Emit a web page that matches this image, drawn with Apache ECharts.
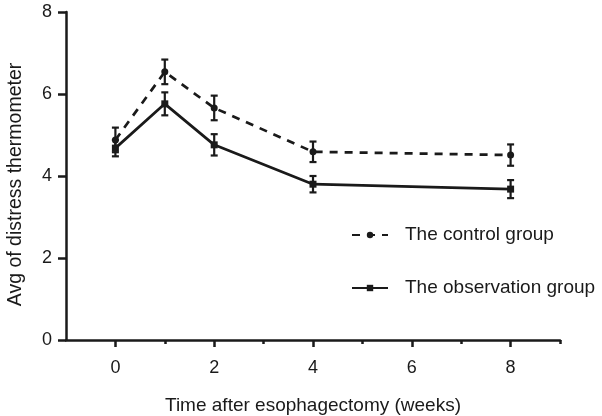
<!DOCTYPE html>
<html>
<head>
<meta charset="utf-8">
<script src="https://cdn.jsdelivr.net/npm/echarts@6/dist/echarts.min.js"></script>
<style>
  html, body { margin: 0; padding: 0; background: #fff; }
  #chart { width: 602px; height: 416px; }
</style>
</head>
<body>
<div id="chart"></div>
<script>
// values
const weeks = [0, 1, 2, 4, 8];
const controlMean = [4.88, 6.54, 5.66, 4.59, 4.51];
const controlErr = [0.3, 0.3, 0.3, 0.25, 0.26];
const obsMean = [4.68, 5.76, 4.76, 3.80, 3.68];
const obsErr = [0.2, 0.28, 0.26, 0.2, 0.22];
const majorTicks = [0, 2, 4, 6, 8];
const minorTicks = [1, 3, 5, 7, 9];
const yTicks = [0, 2, 4, 6, 8];

const ink = '#1a1a1a';
const font = '"Liberation Sans", Arial, sans-serif';

const pairs = (m) => weeks.map((w, i) => [w, m[i]]);
const bars = (m, e) => weeks.map((w, i) => [w, m[i] - e[i], m[i] + e[i]]);

const errorBars = (name, data) => ({
  name: name + ' err',
  type: 'custom',
  xAxisIndex: 0,
  data,
  z: 3,
  renderItem: function (params, api) {
    const x = api.value(0);
    const top = api.coord([x, api.value(2)]);
    const bot = api.coord([x, api.value(1)]);
    const cap = 3.5;
    const style = {stroke: ink, lineWidth: 2.2};
    return {
      type: 'group',
      children: [
        {type: 'line', shape: {x1: top[0], y1: top[1], x2: bot[0], y2: bot[1]}, style},
        {type: 'line', shape: {x1: top[0] - cap, y1: top[1], x2: top[0] + cap, y2: top[1]}, style},
        {type: 'line', shape: {x1: bot[0] - cap, y1: bot[1], x2: bot[0] + cap, y2: bot[1]}, style}
      ]
    };
  }
});

const chart = echarts.init(document.getElementById('chart'));
chart.setOption({
  animation: false,
  textStyle: {fontFamily: font, color: ink},
  grid: {left: 66, right: 42, top: 12, bottom: 76, outerBoundsMode: 'none'},
  legend: {
    data: ['The control group', 'The observation group'],
    orient: 'vertical',
    left: 346,
    top: 220,
    itemWidth: 36,
    itemHeight: 8,
    itemGap: 33,
    textStyle: {fontFamily: font, fontSize: 19, lineHeight: 20, color: ink, padding: [0, 0, 0, 12]}
  },
  xAxis: [
    {
      type: 'value',
      min: -1,
      max: 9,
      name: 'Time after esophagectomy (weeks)',
      nameLocation: 'middle',
      nameGap: 56,
      nameTextStyle: {fontSize: 19, color: ink},
      splitLine: {show: false},
      axisLine: {onZero: false, lineStyle: {color: ink, width: 2.5}},
      axisTick: {customValues: majorTicks, length: 7, lineStyle: {color: ink, width: 2.5}},
      axisLabel: {customValues: majorTicks, fontSize: 18, color: ink, margin: 19}
    },
    {
      type: 'value',
      min: -1,
      max: 9,
      position: 'bottom',
      splitLine: {show: false},
      axisLine: {show: false, onZero: false},
      axisTick: {customValues: minorTicks, length: 4, lineStyle: {color: ink, width: 2.5}},
      axisLabel: {show: false}
    }
  ],
  yAxis: {
    type: 'value',
    min: 0,
    max: 8,
    interval: 2,
    name: 'Avg of distress thermometer',
    nameLocation: 'middle',
    nameGap: 40,
    nameTextStyle: {fontSize: 19.5, color: ink, padding: [0, 17, 0, 0]},
    splitLine: {show: false},
    axisLine: {show: true, onZero: false, lineStyle: {color: ink, width: 2.5}},
    axisTick: {show: true, length: 8, lineStyle: {color: ink, width: 2.5}},
    axisLabel: {customValues: yTicks, fontSize: 18, color: ink, margin: 14}
  },
  series: [
    {
      name: 'The control group',
      type: 'line',
      data: pairs(controlMean),
      symbol: 'circle',
      symbolSize: 7,
      itemStyle: {color: ink},
      lineStyle: {color: ink, width: 2.7, type: [8, 7]},
      z: 4
    },
    {
      name: 'The observation group',
      type: 'line',
      data: pairs(obsMean),
      symbol: 'rect',
      symbolSize: 7,
      itemStyle: {color: ink},
      lineStyle: {color: ink, width: 2.7},
      z: 4
    },
    errorBars('The control group', bars(controlMean, controlErr)),
    errorBars('The observation group', bars(obsMean, obsErr))
  ]
});
</script>
</body>
</html>
